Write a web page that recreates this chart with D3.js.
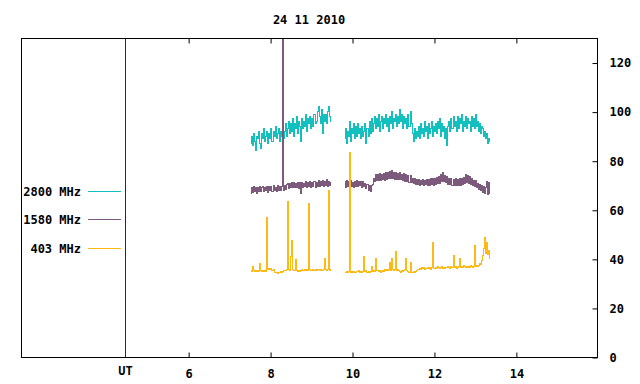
<!DOCTYPE html>
<html><head><meta charset="utf-8">
<script src="https://cdn.jsdelivr.net/npm/d3@7"></script>
<style>
html,body{margin:0;padding:0;background:#fff;}
text{font-family:"DejaVu Sans Mono","Liberation Mono",monospace;font-size:12px;font-weight:bold;fill:#000;}
</style></head>
<body><svg id="c" width="640" height="384"></svg>
<script>
// ---- data (hours UT, solar flux) ----
const title = "24 11 2010";
const xTicks = [6, 8, 10, 12, 14];
const yTicks = [0, 20, 40, 60, 80, 100, 120];
const utMarker = 4.46;           // position of the "UT" marker line
const seriesNames = ["2800 MHz", "1580 MHz", "403 MHz"];
const seriesColors = ["#12c0c0", "#7c5a7c", "#ffb914"];
const segStart = [7.534, 9.828];  // start time of each recording segment
const sampleStep = 0.025;          // hours between samples

const f2800a = [87,90,86,91,88,84,90,89,92,87,
 85,91,89,93,88,90,92,87,91,89,
 93,88,92,90,94,89,91,93,88,92,
 90,94,89,92,95,90,93,96,91,95,
 92,97,90,95,93,98,91,96,94,88,
 97,93,96,94,99,92,97,95,98,93,
 97,94,99,95,96,100,102,98,95,101,
 91,99,96,99,95,100,102,98,96];
const f2800b = [89,93,87,92,90,96,88,93,91,95,
 89,94,90,95,91,93,89,94,90,92,
 95,87,93,90,96,91,97,92,95,98,
 93,97,94,99,92,96,98,93,97,95,
 99,94,97,92,98,95,100,93,97,96,
 99,94,98,95,101,96,99,93,98,95,
 97,93,99,94,100,95,91,88,93,89,
 92,90,94,89,95,91,93,90,96,92,
 94,89,95,91,93,96,90,94,92,95,
 91,96,93,97,90,95,92,94,89,93,
 86,94,96,92,97,93,98,94,96,92,
 98,93,97,95,99,92,96,94,98,93,
 97,95,96,92,98,94,97,93,99,94,
 96,92,95,91,94,93,90,92,89,91,
 87,89,88];

const f1580a = [66.8,69,67.2,69.3,67.5,68.9,66.6,69.2,67.6,69.4,
 67.3,69,69.5,67.4,69.1,67.8,69.6,67.2,69.3,68,
 69.4,67.6,69.7,67.9,69.2,67.5,69.8,68,69.5,67.7,
 69.6,135,67.9,69.9,68.2,70.1,70.6,68.8,70.9,69,
 71,68.9,71.2,69.1,70.8,69.2,71.3,68.8,71,66.6,
 71.2,69.1,70.9,69.3,71.4,69,71.1,69.4,71.5,69.2,
 71.3,69.5,71.6,69.1,71.2,69.6,71.8,69.3,71.4,69.7,
 71.9,69.4,71.6,69.8,72.2,69.5,71.7,69.9,71.3];
const f1580b = [71.5,69.2,71.8,69.5,71.4,69.1,71.9,69.6,71.3,69.2,
 71.6,69.4,71.9,69.3,71.5,69.7,71.7,69.2,71.4,69.5,
 70.8,68.6,70.2,67.8,69.9,67.6,69.8,70.2,72.8,71.4,
 74.3,71.9,74.5,72.1,74.6,71.8,74.4,72.2,74.7,72,
 75,72.4,75.2,72.6,75.4,72.8,76,72.7,75.3,72.5,
 75.1,72.4,74.9,72.2,75.3,72.4,74.5,71.8,74.6,71.7,
 74.4,71.5,74.1,71.3,73.8,71.1,72.8,70.6,72.6,70.5,
 72.4,70.1,72.3,69.8,72,70.1,72.2,69.9,72.1,70.2,
 72.3,69.7,72.5,69.9,72.8,70.1,72.6,69.8,72.9,70.3,
 73.2,70.6,73.4,70.8,74.3,71.4,75.2,71.6,74.1,71,
 73.4,70.4,72.9,70.1,72.7,69.8,72.5,69.9,72.6,69.7,
 72.3,69.8,72.6,70,72.9,70.3,73.3,70.6,74.4,71.2,
 73.9,70.9,73.4,70.5,72.9,70,72.1,69.3,71.8,69,
 70.9,68.4,70.3,67.7,69.9,67.1,69.5,66.5,68.9,71.5,
 66.2,71.2,66.6];

const f403a = [35.2,34.8,37,35.1,34.9,35.3,34.7,35.2,35,38,
 35.1,34.8,35.3,34.9,35.2,34.7,56.8,35.8,36,35.6,
 35.9,35.4,35.7,34.6,34.3,34.5,34.2,34.6,34.4,34.7,
 34.5,34.8,35.1,35.4,35.2,35.6,63.5,35.8,35.3,41,
 47.5,35.6,35.3,35.1,39.6,35.4,35,35.3,34.9,35.2,
 35.6,35.1,35.4,35.8,35.2,35.5,35.3,62.5,35.6,35.4,
 35.2,35.7,35.3,35.6,35.1,35.5,35.8,35.3,35.6,35.2,
 35.4,35.7,40,35.5,35.3,35.8,68,35.4,35.6];
const f403b = [34.6,34.3,34.7,34.4,34.8,83.3,34.6,34.9,34.5,34.8,
 34.6,34.4,34.9,34.7,35.1,34.5,34.8,34.6,35,41,
 34.7,35.1,34.6,34.9,34.5,34.8,37,34.9,35.2,34.7,
 40,35.1,35.4,34.9,35.2,34.6,34.9,35.3,34.8,35.5,
 35.1,35.6,35.3,35.8,38.5,35.2,40,35.6,35.3,35.7,
 43,35.4,35.8,35.2,35,34.6,35.3,34.8,35.1,35.5,
 40,35.2,34.7,34.4,38.7,34.6,34.3,34.8,34.5,35,
 35.3,35.8,35.5,36.1,35.7,36.3,35.9,36.4,35.8,36.2,
 35.9,36.4,36.1,36.6,35.8,36.3,46.6,36.2,35.9,36.5,
 36.1,36.7,36.3,35.9,36.4,36.8,36.2,36.6,36,36.5,
 36.3,36.9,36.4,36.1,36.7,36.3,41.3,36.5,36.8,36.2,
 36.6,37,40.3,36.4,36.9,36.5,37.1,36.7,36.3,36.8,
 36.5,37,36.6,37.2,36.8,36.4,37,45.4,36.7,37.1,
 36.8,37.4,38.2,37.6,39.4,41.5,44.2,48.5,42.3,46.8,
 41.6,43.5,40.2];

const seriesData = [[f2800a, f2800b], [f1580a, f1580b], [f403a, f403b]];

// ---- drawing ----
const svg = d3.select("#c");
const L = 21, R = 597, T = 38, B = 357;
const x = d3.scaleLinear().domain([1.92, 15.98]).range([L, R]);
const y = d3.scaleLinear().domain([0, 130]).range([B, T]);

svg.append("defs").append("clipPath").attr("id", "pc")
  .append("rect").attr("x", L).attr("y", T).attr("width", R - L).attr("height", B - T);

const line = d3.line().curve(d3.curveStep).x(d => x(d[0])).y(d => y(d[1]));
const g = svg.append("g").attr("clip-path", "url(#pc)");
seriesData.forEach((segs, si) => {
  segs.forEach((vals, j) => {
    const pts = vals.map((v, k) => [segStart[j] + k * sampleStep, v]);
    g.append("path").attr("d", line(pts)).attr("fill", "none")
      .attr("stroke", seriesColors[si]).attr("stroke-width", 1)
      .attr("shape-rendering", "crispEdges");
  });
});

// UT marker line
svg.append("line").attr("x1", Math.round(x(utMarker)) + 0.5).attr("x2", Math.round(x(utMarker)) + 0.5)
  .attr("y1", T).attr("y2", B).attr("stroke", "#880000").attr("stroke-width", 1);

// frame
svg.append("rect").attr("x", L + 0.5).attr("y", T + 0.5).attr("width", R - L).attr("height", B - T)
  .attr("fill", "none").attr("stroke", "#000").attr("stroke-width", 1);

// x ticks (bottom + mirrored top), inward
const xAxisB = d3.axisBottom(x).tickValues(xTicks).tickSize(-5).tickPadding(12).tickFormat(d3.format("d"));
const gx = svg.append("g").attr("transform", `translate(0.5,${B + 0.5})`).call(xAxisB);
gx.select(".domain").remove();
gx.selectAll("line").attr("stroke", "#000");
gx.selectAll("text").attr("font-size", null).attr("font-family", null).attr("fill", "#000");
const xAxisT = d3.axisTop(x).tickValues(xTicks).tickSize(-5).tickFormat("");
const gxt = svg.append("g").attr("transform", `translate(0.5,${T + 0.5})`).call(xAxisT);
gxt.select(".domain").remove();
gxt.selectAll("line").attr("stroke", "#000");

svg.append("text").attr("x", Math.round(x(utMarker)) + 0.5).attr("y", 374.5)
  .attr("text-anchor", "middle").text("UT");

// y ticks right, inward
const yAxis = d3.axisRight(y).tickValues(yTicks).tickSize(-5).tickPadding(12).tickFormat(d3.format("d"));
const gy = svg.append("g").attr("transform", `translate(${R + 0.5},0.5)`).call(yAxis);
gy.select(".domain").remove();
gy.selectAll("line").attr("stroke", "#000");
gy.selectAll("text").attr("font-size", null).attr("font-family", null).attr("fill", "#000");

// title
svg.append("text").attr("x", 309).attr("y", 23.5).attr("text-anchor", "middle").text(title);

// legend
const legY = [191, 219, 248];
seriesNames.forEach((n, i) => {
  svg.append("text").attr("x", 81).attr("y", legY[i] + 4.5).attr("text-anchor", "end").text(n);
  svg.append("line").attr("x1", 88).attr("x2", 121).attr("y1", legY[i] + 0.5).attr("y2", legY[i] + 0.5)
    .attr("stroke", seriesColors[i]).attr("stroke-width", 1);
});
</script></body></html>
